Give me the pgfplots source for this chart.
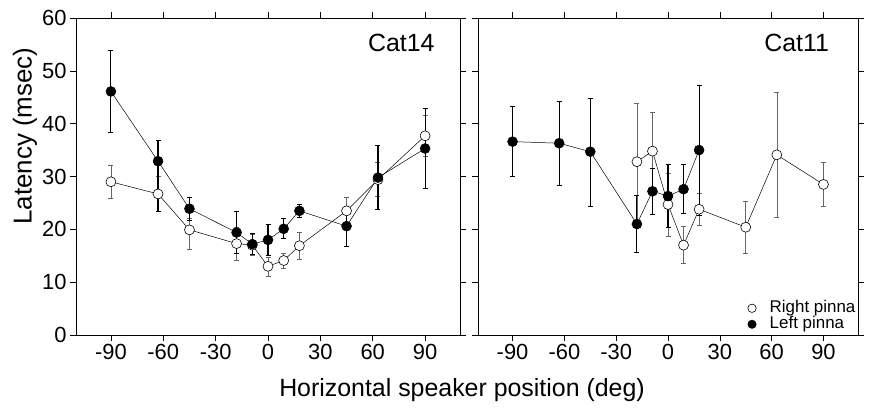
\documentclass[border=0pt]{standalone}
\usepackage{fontspec}
\setmainfont{Liberation Sans}
\usepackage{pgfplots}
\pgfplotsset{compat=1.18}
\pgfplotsset{
  panel/.style={
    scale only axis, height=317bp,
    xmin=-110, xmax=110, ymin=0, ymax=60,
    xtick={-90,-60,-30,0,30,60,90},
    xticklabels={-90,-60,-30,0,30,60,90},
    ytick={0,10,20,30,40,50,60},
    tick align=outside, tick pos=both,
    major tick length=6bp,
    tick style={black, line width=0.6pt},
    axis line style={line width=0.8pt},
    tick label style={font=\fontsize{22}{22}\selectfont},
    clip=false,
  },
  hollow/.style={black, line width=0.5pt, mark=*, mark size=5bp,
    mark options={fill=white, draw=black, line width=0.6pt},
    error bars/.cd, y dir=both, y explicit,
    error bar style={line width=0.6pt, black!60},
    error mark options={rotate=90, mark size=2.5bp, line width=0.6pt, black!60}},
  filled/.style={black, line width=0.5pt, mark=*, mark size=5bp,
    mark options={fill=black, draw=black},
    error bars/.cd, y dir=both, y explicit,
    error bar style={line width=1.1pt, black},
    error mark options={rotate=90, mark size=2.5bp, line width=0.8pt, black}},
}
\begin{document}
\begin{tikzpicture}
\useasboundingbox (0bp,0bp) rectangle (869bp,409bp);
% left panel
\begin{axis}[panel, width=384bp, at={(76bp,74bp)}, anchor=south west,
  yticklabels={0,10,20,30,40,50,60}]
\addplot+[hollow] coordinates {
  (-90,29.0) += (0,3.1) -= (0,3.1)
  (-63,26.7) += (0,3.3) -= (0,3.3)
  (-45,19.9) += (0,2.2) -= (0,3.6)
  (-18,17.3) += (0,3.1) -= (0,3.1)
  (-9,17.0) += (0,2.0) -= (0,2.0)
  (0,13.0) += (0,1.8) -= (0,1.8)
  (9,14.1) += (0,1.4) -= (0,1.4)
  (18,16.9) += (0,2.5) -= (0,2.5)
  (45,23.5) += (0,2.6) -= (0,2.6)
  (63,29.4) += (0,3.2) -= (0,3.2)
  (90,37.7) += (0,3.9) -= (0,3.9)
};
\addplot+[filled] coordinates {
  (-90,46.1) += (0,7.7) -= (0,7.7)
  (-63,32.9) += (0,3.9) -= (0,9.6)
  (-45,23.9) += (0,2.2) -= (0,2.2)
  (-18,19.4) += (0,3.9) -= (0,3.9)
  (-9,17.2) += (0,2.0) -= (0,2.0)
  (0,18.0) += (0,2.9) -= (0,2.9)
  (9,20.1) += (0,1.9) -= (0,1.9)
  (18,23.5) += (0,1.2) -= (0,1.2)
  (45,20.6) += (0,3.8) -= (0,3.8)
  (63,29.8) += (0,6.0) -= (0,6.0)
  (90,35.3) += (0,7.6) -= (0,7.6)
};
\node[anchor=base east, font=\fontsize{25}{25}\selectfont] at (rel axis cs:0.943,0.894) {Cat14};
\end{axis}
% right panel
\begin{axis}[panel, width=380bp, at={(478bp,74bp)}, anchor=south west,
  yticklabels={},
  legend style={at={(rel axis cs:0.995,0.008)}, anchor=south east, draw=none, fill=none,
    font=\fontsize{17}{17}\selectfont, inner sep=0pt, row sep=0bp,
    nodes={inner sep=0.5bp, text height=11.5bp, text depth=3.5bp},
    /tikz/every odd column/.style={column sep=13bp}},
  legend cell align=left,
  legend image code/.code={\draw[#1, mark size=4.2bp] plot coordinates {(0bp,0bp)};}]
\addplot+[hollow] coordinates {
  (-18,32.8) += (0,11.1) -= (0,11.1)
  (-9,34.8) += (0,7.3) -= (0,7.3)
  (0,24.7) += (0,6.0) -= (0,6.0)
  (9,17.0) += (0,3.5) -= (0,3.5)
  (18,23.8) += (0,3.0) -= (0,3.0)
  (45,20.4) += (0,4.9) -= (0,4.9)
  (63,34.1) += (0,11.8) -= (0,11.8)
  (90,28.5) += (0,4.1) -= (0,4.1)
};
\addlegendentry{Right pinna}
\addplot+[filled] coordinates {
  (-90,36.6) += (0,6.6) -= (0,6.6)
  (-63,36.3) += (0,8.0) -= (0,7.9)
  (-45,34.7) += (0,10.1) -= (0,10.3)
  (-18,21.0) += (0,5.4) -= (0,5.4)
  (-9,27.2) += (0,4.4) -= (0,4.4)
  (0,26.3) += (0,6.0) -= (0,6.0)
  (9,27.6) += (0,4.6) -= (0,4.6)
  (18,35.0) += (0,12.3) -= (0,12.3)
};
\addlegendentry{Left pinna}
\node[anchor=base east, font=\fontsize{25}{25}\selectfont] at (rel axis cs:0.933,0.894) {Cat11};
\end{axis}
\node[rotate=90, font=\fontsize{26}{26}\selectfont] at (25bp,273bp) {Latency (msec)};
\node[anchor=base, font=\fontsize{25}{25}\selectfont] at (462bp,13bp) {Horizontal speaker position (deg)};
\end{tikzpicture}
\end{document}
